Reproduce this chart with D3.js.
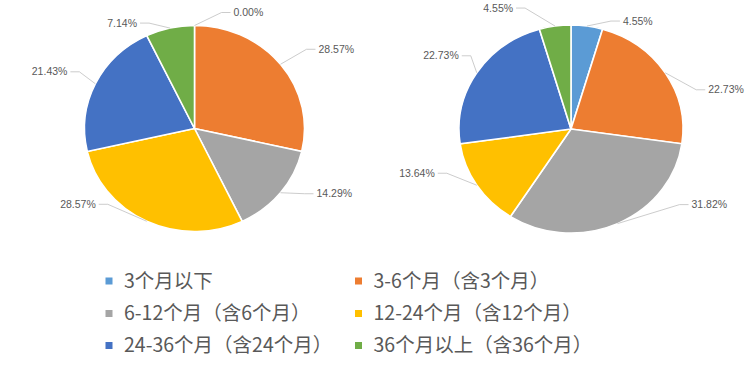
<!DOCTYPE html>
<html>
<head>
<meta charset="utf-8">
<script src="https://cdn.jsdelivr.net/npm/d3@7"></script>
<style>
  html, body { margin: 0; padding: 0; background: #fff; }
</style>
</head>
<body>
<svg id="chart" width="752" height="367"></svg>
<script>
const categories = [
  "3个月以下",
  "3-6个月（含3个月）",
  "6-12个月（含6个月）",
  "12-24个月（含12个月）",
  "24-36个月（含24个月）",
  "36个月以上（含36个月）",
];
const colors = ["#5B9BD5", "#ED7D31", "#A5A5A5", "#FFC000", "#4472C4", "#70AD47"];

// percentages shown on each pie (clockwise from 12 o'clock)
const leftValues = [0, 28.57, 14.29, 28.57, 21.43, 7.14];
const rightValues = [4.55, 22.73, 31.82, 13.64, 22.73, 4.55];

// HACK: manual label nudges (text anchor relative to slice edge) to mimic excel "best fit"
const leftNudge = [[39, -13], [38, -15], [36, 1], [-51, -17], [-28, -12], [-33, -5]];
const rightNudge = [[36, -5], [43, 17], [74, -19], [-42, -12], [-18, -17], [-42, -18]];

const labelFont = `"Liberation Sans", Arial, sans-serif`;
const legendFont = `"Noto Sans CJK SC", "Noto Sans", sans-serif`;
const textColor = "#595959";

const svg = d3.select("#chart");

const pies = [
  { values: leftValues, nudge: leftNudge, cx: 194.5, cy: 128.5, rx: 110, ry: 103 },
  { values: rightValues, nudge: rightNudge, cx: 571, cy: 129, rx: 112, ry: 104 },
];

const pie = d3.pie().sort(null).value((d) => d);
const fmt = (v) => v.toFixed(2) + "%";

pies.forEach((p) => {
  const arcs = pie(p.values);
  const arc = d3.arc().innerRadius(0).outerRadius(p.rx);

  const g = svg.append("g").attr("transform", `translate(${p.cx}, ${p.cy})`);

  g.append("g")
    .attr("transform", `scale(1, ${p.ry / p.rx})`)
    .selectAll("path")
    .data(arcs)
    .enter()
    .append("path")
    .attr("d", arc)
    .attr("fill", (d, i) => colors[i])
    .attr("stroke", "#fff")
    .attr("stroke-width", 1.6);

  const labels = g.append("g")
    .attr("font-family", labelFont)
    .attr("font-size", 10.5)
    .attr("fill", textColor);

  arcs.forEach((d, i) => {
    const mid = (d.startAngle + d.endAngle) / 2;
    const ex = p.rx * Math.sin(mid);
    const ey = -p.ry * Math.cos(mid);
    const [nx, ny] = p.nudge[i];
    const tx = ex + nx;
    const ty = ey + ny;
    const right = nx >= 0;
    const endX = right ? tx - 3 : tx + 3;
    const elbowX = right ? endX - 9 : endX + 9;

    labels.append("path")
      .attr("d", `M${ex},${ey}L${elbowX},${ty}L${endX},${ty}`)
      .attr("fill", "none")
      .attr("stroke", "#bfbfbf")
      .attr("stroke-width", 0.8);

    labels.append("text")
      .attr("x", tx)
      .attr("y", ty)
      .attr("dy", "0.35em")
      .attr("text-anchor", right ? "start" : "end")
      .text(fmt(p.values[i]));
  });
});

// legend, 2 columns
const colX = [105.5, 355];
const rowY = [281, 313.5, 345.5];

const legend = svg.append("g")
  .attr("font-family", legendFont)
  .attr("font-size", 19.5)
  .attr("fill", textColor);

const item = legend.selectAll(".legend-item")
  .data(categories)
  .enter()
  .append("g")
  .classed("legend-item", true)
  .attr("transform", (d, i) => `translate(${colX[i % 2]}, ${rowY[Math.floor(i / 2)]})`);

item.append("rect")
  .attr("x", 0)
  .attr("y", -3.5)
  .attr("width", 7)
  .attr("height", 7)
  .attr("fill", (d, i) => colors[i]);

item.append("text")
  .attr("x", 18.5)
  .attr("dy", "0.35em")
  .text((d) => d);
</script>
</body>
</html>
